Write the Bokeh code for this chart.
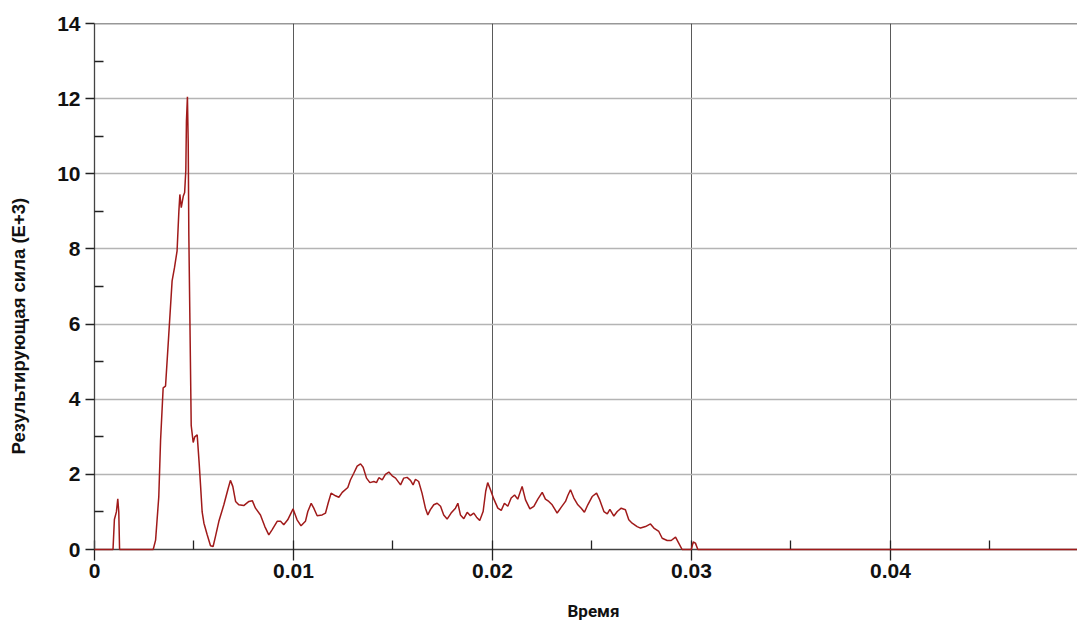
from bokeh.plotting import figure
from bokeh.models import (FixedTicker, Range1d, Span, Title, NumeralTickFormatter,
                          LinearAxis, CustomJSTickFormatter)
from bokeh.embed import file_html
from bokeh.resources import INLINE

# ---- data (time in s, force in E+3) ----
time = [
    0.0, 0.00093, 0.00100, 0.00110, 0.00117, 0.00122, 0.00126,
    0.00295, 0.00307, 0.00323, 0.00332, 0.00345, 0.00357, 0.00373, 0.00390,
    0.00402, 0.00415, 0.00424, 0.00429, 0.00436, 0.00446, 0.00453, 0.00459,
    0.00462, 0.00467, 0.00471, 0.00474, 0.00479, 0.00486, 0.00496, 0.00504,
    0.00516, 0.00526, 0.00533, 0.00541, 0.00550, 0.00566, 0.00583, 0.00596,
    0.00608, 0.00625, 0.00650, 0.00670, 0.00683, 0.00695, 0.00709, 0.00725,
    0.00750, 0.00776, 0.00793, 0.00809, 0.00834, 0.00856, 0.00876, 0.00893,
    0.00918, 0.00935, 0.00951, 0.00971, 0.00998, 0.01018, 0.01038, 0.01060,
    0.01072, 0.01089, 0.01102, 0.01119, 0.01144, 0.01161, 0.01174, 0.01189,
    0.01211, 0.01228, 0.01245, 0.01273, 0.01286, 0.01303, 0.01320, 0.01337,
    0.01350, 0.01367, 0.01384, 0.01404, 0.01417, 0.01429, 0.01446, 0.01462,
    0.01479, 0.01496, 0.01513, 0.01538, 0.01554, 0.01571, 0.01588, 0.01601,
    0.01613, 0.01629, 0.01646, 0.01663, 0.01675, 0.01688, 0.01705, 0.01722,
    0.01739, 0.01755, 0.01772, 0.01792, 0.01814, 0.01826, 0.01839, 0.01856,
    0.01873, 0.01889, 0.01906, 0.01920, 0.01936, 0.01953, 0.01966, 0.01976,
    0.01990, 0.02007, 0.02027, 0.02044, 0.02060, 0.02077, 0.02094, 0.02111,
    0.02127, 0.02149, 0.02166, 0.02188, 0.02208, 0.02228, 0.02250, 0.02266,
    0.02283, 0.02300, 0.02325, 0.02345, 0.02367, 0.02378, 0.02392, 0.02409,
    0.02429, 0.02446, 0.02462, 0.02479, 0.02501, 0.02523, 0.02539, 0.02560,
    0.02577, 0.02590, 0.02610, 0.02627, 0.02647, 0.02668, 0.02685, 0.02702,
    0.02727, 0.02744, 0.02769, 0.02794, 0.02811, 0.02836, 0.02853, 0.02878,
    0.02898, 0.02920, 0.02936, 0.02953, 0.02999, 0.03009, 0.03020, 0.03032,
    0.0495,
]
force = [
    0.0, 0.0, 0.8, 1.0, 1.35, 1.0, 0.0,
    0.0, 0.25, 1.4, 2.9, 4.3, 4.35, 5.7, 7.15,
    7.5, 7.95, 9.0, 9.45, 9.1, 9.4, 9.5, 10.1,
    11.4, 12.05, 10.8, 8.4, 6.3, 3.3, 2.85, 3.0,
    3.05, 2.3, 1.7, 1.0, 0.7, 0.4, 0.1, 0.08,
    0.35, 0.75, 1.19, 1.59, 1.84, 1.68, 1.28, 1.19,
    1.17, 1.28, 1.3, 1.1, 0.92, 0.61, 0.39, 0.53,
    0.75, 0.75, 0.66, 0.79, 1.08, 0.79, 0.63, 0.75,
    1.01, 1.23, 1.1, 0.9, 0.92, 0.97, 1.23, 1.5,
    1.43, 1.39, 1.52, 1.65, 1.85, 2.03, 2.22, 2.28,
    2.19, 1.9, 1.78, 1.81, 1.78, 1.91, 1.85, 2.0,
    2.06, 1.96, 1.9, 1.72, 1.9, 1.92, 1.84, 1.72,
    1.87, 1.81, 1.5, 1.1, 0.92, 1.06, 1.19, 1.23,
    1.15, 0.92, 0.81, 0.97, 1.1, 1.23, 0.92, 0.82,
    0.99, 0.9, 0.97, 0.86, 0.77, 1.01, 1.55, 1.78,
    1.59, 1.34, 1.1, 1.04, 1.23, 1.15, 1.37, 1.45,
    1.34, 1.68, 1.32, 1.08, 1.15, 1.34, 1.52, 1.34,
    1.28, 1.19, 0.97, 1.12, 1.28, 1.43, 1.59, 1.37,
    1.19, 1.1, 0.99, 1.19, 1.41, 1.5, 1.32, 1.01,
    0.95, 1.07, 0.89, 1.01, 1.1, 1.06, 0.79, 0.7,
    0.61, 0.57, 0.61, 0.68, 0.57, 0.48, 0.3, 0.24,
    0.24, 0.33, 0.17, 0.0, 0.0, 0.2, 0.17, 0.0,
    0.0,
]

x_ticks = [0.0, 0.01, 0.02, 0.03, 0.04]
x_minor = [0.005, 0.015, 0.025, 0.035, 0.045]
y_ticks = [0, 2, 4, 6, 8, 10, 12, 14]
y_minor = [1, 3, 5, 7, 9, 11, 13]

x_title = "Время"
y_title = "Результирующая сила  (E+3)"

p = figure(width=1077, height=620, output_backend="svg", toolbar_location=None,
           x_range=Range1d(0, 0.0494), y_range=Range1d(0, 14),
           min_border_left=94, min_border_right=0, min_border_top=23,
           min_border_bottom=70)
p.outline_line_color = None
p.background_fill_color = "white"
p.border_fill_color = "white"

xt = FixedTicker(ticks=x_ticks, minor_ticks=x_minor)
yt = FixedTicker(ticks=y_ticks, minor_ticks=y_minor)
p.xaxis.ticker = xt
p.xgrid.ticker = xt
p.yaxis.ticker = yt
p.ygrid.ticker = yt
p.xaxis.formatter = NumeralTickFormatter(format="0.[00]")

p.xgrid.grid_line_color = "#5a5a5a"
p.xgrid.grid_line_width = 1
p.ygrid.grid_line_color = "#b4b4b4"
p.ygrid.grid_line_width = 1.5

for ax in (p.xaxis[0], p.yaxis[0]):
    ax.axis_line_color = "#444444"
    ax.axis_line_width = 1.3
    ax.major_tick_line_color = "#222222"
    ax.minor_tick_line_color = "#222222"
    ax.major_tick_line_width = 1.3
    ax.minor_tick_line_width = 1.3
    ax.major_label_text_font = "Liberation Sans"
    ax.major_label_text_font_style = "bold"
    ax.major_label_text_font_size = "21px"
    ax.major_label_text_color = "#111111"

p.xaxis.major_tick_in = 9
p.xaxis.major_tick_out = 11
p.xaxis.minor_tick_in = 9
p.xaxis.minor_tick_out = 0
p.xaxis.major_label_standoff = 3

p.yaxis.major_tick_in = 0
p.yaxis.major_tick_out = 9
p.yaxis.minor_tick_in = 9
p.yaxis.minor_tick_out = 0
p.yaxis.major_label_standoff = 5

p.add_layout(Span(location=14, dimension="width", line_color="#333333", line_width=1.5))

p.line(time, force, line_color="#a01a1a", line_width=1.5, level="overlay")


def spacer(size, at):
    # invisible axis (one hidden tick, empty label) that only reserves space
    return LinearAxis(ticker=FixedTicker(ticks=[at], minor_ticks=[]),
                      formatter=CustomJSTickFormatter(code="return ''"),
                      axis_line_color=None, major_tick_line_color=None,
                      minor_tick_line_color=None, major_tick_in=0,
                      major_tick_out=size, minor_tick_in=0, minor_tick_out=0,
                      major_label_standoff=0, major_label_text_font_size="1px")


p.add_layout(spacer(24, 7), "left")
yt_title = Title(text=y_title, align="left", offset=95, vertical_align="top",
                 text_font="Liberation Sans", text_font_style="bold",
                 text_font_size="18.5px", text_color="#111111", standoff=0)
p.add_layout(yt_title, "left")

p.add_layout(spacer(18, 0.02), "below")
xt_title = Title(text=x_title, align="left", offset=473, vertical_align="bottom",
                 text_font="Roboto", text_font_style="bold",
                 text_font_size="17px", text_color="#111111", standoff=0)
p.add_layout(xt_title, "below")

open("out.html", "w").write(file_html(p, INLINE))
